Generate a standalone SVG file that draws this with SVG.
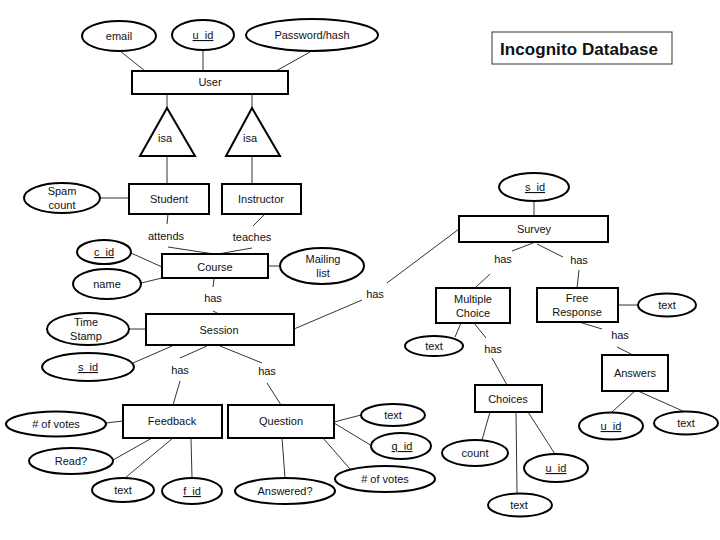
<svg xmlns="http://www.w3.org/2000/svg" width="720" height="540" viewBox="0 0 720 540">
<style>
.e{fill:#fff;stroke:#000;stroke-width:2}
.r{fill:#fff;stroke:#000;stroke-width:2}
.t{font-family:"Liberation Sans",Arial,sans-serif;font-size:11px;fill:#111;text-anchor:middle}
.u{text-decoration:underline}
.c line,.c polyline{stroke:#333;stroke-width:1;fill:none}
</style>
<rect width="720" height="540" fill="#fff"/>
<g class="c" id="connectors">
<line x1="120" y1="51" x2="145" y2="71"/>
<line x1="203" y1="50" x2="203" y2="71"/>
<line x1="310" y1="52" x2="276" y2="71"/>
<line x1="167" y1="94" x2="167" y2="108"/>
<line x1="252" y1="94" x2="252" y2="108"/>
<line x1="167" y1="156" x2="167" y2="184"/>
<line x1="252" y1="156" x2="252" y2="184"/>
<line x1="100" y1="198" x2="129" y2="198"/>
<line x1="168" y1="214" x2="167" y2="224"/>
<line x1="265" y1="214" x2="253" y2="226"/>
<line x1="168" y1="247" x2="214" y2="254"/>
<line x1="252" y1="248" x2="218" y2="254"/>
<line x1="131" y1="253" x2="162" y2="267"/>
<line x1="141" y1="283" x2="162" y2="278"/>
<line x1="268" y1="266" x2="281" y2="266"/>
<line x1="214" y1="279" x2="213" y2="287"/>
<line x1="213" y1="311" x2="219" y2="314"/>
<line x1="129" y1="329" x2="146" y2="329"/>
<line x1="294" y1="329" x2="362" y2="300"/>
<line x1="387" y1="283" x2="459" y2="229"/>
<line x1="133" y1="363" x2="172" y2="346"/>
<line x1="180" y1="358" x2="207" y2="346"/>
<line x1="180" y1="381" x2="173" y2="405"/>
<line x1="220" y1="346" x2="262" y2="363"/>
<line x1="267" y1="383" x2="281" y2="405"/>
<line x1="106" y1="423" x2="123" y2="421"/>
<line x1="113" y1="460" x2="152" y2="438"/>
<line x1="125" y1="478" x2="173" y2="438"/>
<line x1="191" y1="438" x2="192" y2="478"/>
<line x1="282" y1="438" x2="285" y2="478"/>
<line x1="334" y1="422" x2="361" y2="415"/>
<line x1="334" y1="423" x2="372" y2="446"/>
<line x1="323" y1="438" x2="350" y2="469"/>
<line x1="534" y1="201" x2="534" y2="216"/>
<line x1="512" y1="251" x2="533" y2="243"/>
<line x1="490" y1="274" x2="475" y2="288"/>
<line x1="537" y1="244" x2="563" y2="257"/>
<line x1="579" y1="270" x2="577" y2="288"/>
<line x1="618" y1="305" x2="638" y2="305"/>
<line x1="461" y1="323" x2="455" y2="337"/>
<line x1="474" y1="323" x2="486" y2="338"/>
<line x1="492" y1="358" x2="507" y2="385"/>
<line x1="579" y1="322" x2="602" y2="329"/>
<line x1="617" y1="347" x2="633" y2="355"/>
<line x1="490" y1="412" x2="482" y2="440"/>
<line x1="528" y1="412" x2="555" y2="454"/>
<line x1="516" y1="412" x2="517" y2="493"/>
<line x1="635" y1="391" x2="612" y2="412"/>
<line x1="638" y1="391" x2="685" y2="412"/>
</g>
<g id="title"><rect x="492" y="32" width="180" height="32" fill="#fff" stroke="#333" stroke-width="1"/><text x="500" y="55" font-family="Liberation Sans,Arial,sans-serif" font-size="17" font-weight="bold" fill="#111" textLength="158">Incognito Database</text></g>
<g id="email"><ellipse class="e" cx="119" cy="36" rx="37" ry="15"/><text class="t" x="119" y="40">email</text></g>
<g id="user_uid"><ellipse class="e" cx="203" cy="35" rx="31" ry="15"/><text class="t u" x="203" y="39">u_id</text></g>
<g id="password"><ellipse class="e" cx="312" cy="35" rx="66" ry="16"/><text class="t" x="312" y="39">Password/hash</text></g>
<g id="user"><rect class="r" x="132" y="71" width="156" height="23"/><text class="t" x="210" y="86">User</text></g>
<g id="isa1"><polygon class="e" points="167,108 140,156 195,156"/><text class="t" x="165" y="142">isa</text></g>
<g id="isa2"><polygon class="e" points="252,108 226,156 280,156"/><text class="t" x="250" y="142">isa</text></g>
<g id="student"><rect class="r" x="129" y="184" width="80" height="30"/><text class="t" x="169" y="203">Student</text></g>
<g id="instructor"><rect class="r" x="222" y="184" width="79" height="30"/><text class="t" x="261" y="203">Instructor</text></g>
<g id="spam"><ellipse class="e" cx="62" cy="198" rx="38" ry="15"/><text class="t" x="62" y="195">Spam</text><text class="t" x="62" y="209">count</text></g>
<g id="attends"><text class="t" x="166" y="240">attends</text></g>
<g id="teaches"><text class="t" x="252" y="241">teaches</text></g>
<g id="course"><rect class="r" x="162" y="254" width="106" height="24"/><text class="t" x="215" y="271">Course</text></g>
<g id="cid"><ellipse class="e" cx="104" cy="252" rx="27" ry="12"/><text class="t u" x="104" y="256">c_id</text></g>
<g id="name"><ellipse class="e" cx="107" cy="284" rx="34" ry="15"/><text class="t" x="107" y="288">name</text></g>
<g id="mailing"><ellipse class="e" cx="322" cy="266" rx="42" ry="18"/><text class="t" x="323" y="263">Mailing</text><text class="t" x="323" y="277">list</text></g>
<g id="has1"><text class="t" x="213" y="302">has</text></g>
<g id="session"><rect class="r" x="146" y="314" width="148" height="31"/><text class="t" x="219" y="334">Session</text></g>
<g id="timestamp"><ellipse class="e" cx="88" cy="329" rx="41" ry="16"/><text class="t" x="86" y="326">Time</text><text class="t" x="86" y="340">Stamp</text></g>
<g id="session_sid"><ellipse class="e" cx="88" cy="367" rx="46" ry="14"/><text class="t u" x="88" y="371">s_id</text></g>
<g id="has_survey"><text class="t" x="375" y="298">has</text></g>
<g id="has2"><text class="t" x="180" y="374">has</text></g>
<g id="has3"><text class="t" x="267" y="375">has</text></g>
<g id="feedback"><rect class="r" x="123" y="405" width="99" height="33"/><text class="t" x="172" y="425">Feedback</text></g>
<g id="question"><rect class="r" x="228" y="405" width="106" height="33"/><text class="t" x="281" y="425">Question</text></g>
<g id="fb_votes"><ellipse class="e" cx="56" cy="424" rx="50" ry="12.5"/><text class="t" x="56" y="428"># of votes</text></g>
<g id="read"><ellipse class="e" cx="71" cy="461" rx="42" ry="13"/><text class="t" x="71" y="465">Read?</text></g>
<g id="fb_text"><ellipse class="e" cx="123" cy="490" rx="31" ry="12"/><text class="t" x="123" y="494">text</text></g>
<g id="fid"><ellipse class="e" cx="192" cy="491" rx="30" ry="13"/><text class="t u" x="192" y="495">f_id</text></g>
<g id="answered"><ellipse class="e" cx="285" cy="491" rx="50" ry="13"/><text class="t" x="285" y="495">Answered?</text></g>
<g id="q_text"><ellipse class="e" cx="393" cy="415" rx="32" ry="11"/><text class="t" x="393" y="419">text</text></g>
<g id="qid"><ellipse class="e" cx="401" cy="446" rx="30" ry="13"/><text class="t u" x="402" y="450">q_id</text></g>
<g id="q_votes"><ellipse class="e" cx="385" cy="479" rx="50" ry="13"/><text class="t" x="385" y="483"># of votes</text></g>
<g id="survey_sid"><ellipse class="e" cx="534" cy="187" rx="35" ry="14"/><text class="t u" x="535" y="191">s_id</text></g>
<g id="survey"><rect class="r" x="459" y="216" width="149" height="26"/><text class="t" x="534" y="233">Survey</text></g>
<g id="has4"><text class="t" x="503" y="263">has</text></g>
<g id="has5"><text class="t" x="579" y="264">has</text></g>
<g id="mc"><rect class="r" x="436" y="288" width="74" height="35"/><text class="t" x="473" y="303">Multiple</text><text class="t" x="473" y="317">Choice</text></g>
<g id="fr"><rect class="r" x="537" y="288" width="81" height="34"/><text class="t" x="577" y="302">Free</text><text class="t" x="577" y="316">Response</text></g>
<g id="fr_text"><ellipse class="e" cx="667" cy="305" rx="29" ry="11.5"/><text class="t" x="667" y="309">text</text></g>
<g id="mc_text"><ellipse class="e" cx="434" cy="346" rx="29" ry="10"/><text class="t" x="434" y="350">text</text></g>
<g id="has6"><text class="t" x="493" y="353">has</text></g>
<g id="has7"><text class="t" x="620" y="339">has</text></g>
<g id="answers"><rect class="r" x="602" y="355" width="66" height="36"/><text class="t" x="635" y="377">Answers</text></g>
<g id="choices"><rect class="r" x="475" y="385" width="67" height="27"/><text class="t" x="508" y="403">Choices</text></g>
<g id="count"><ellipse class="e" cx="475" cy="453" rx="33" ry="13"/><text class="t" x="475" y="457">count</text></g>
<g id="ch_uid"><ellipse class="e" cx="556" cy="468" rx="32" ry="14"/><text class="t u" x="556" y="472">u_id</text></g>
<g id="ch_text"><ellipse class="e" cx="520" cy="505" rx="32" ry="11.5"/><text class="t" x="519" y="509">text</text></g>
<g id="ans_uid"><ellipse class="e" cx="611" cy="426" rx="32" ry="13.5"/><text class="t u" x="611" y="430">u_id</text></g>
<g id="ans_text"><ellipse class="e" cx="686" cy="423" rx="32" ry="11.5"/><text class="t" x="686" y="427">text</text></g>
</svg>
